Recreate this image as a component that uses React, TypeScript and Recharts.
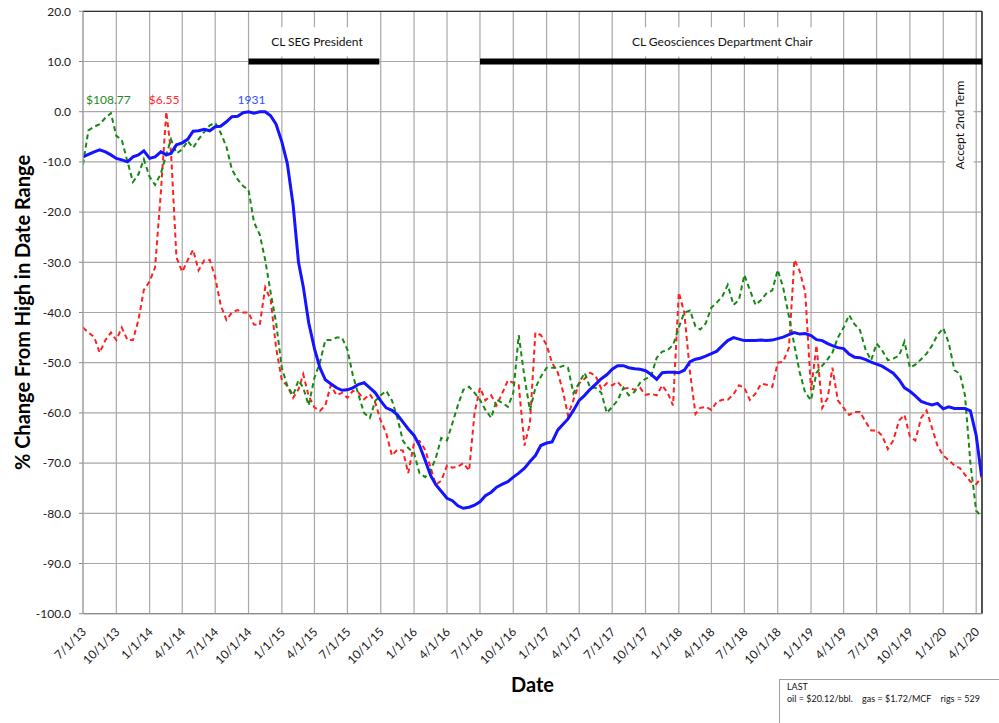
import React from 'react';
import {
  LineChart,
  Line,
  XAxis,
  YAxis,
  CartesianGrid,
  ReferenceLine,
  ReferenceArea,
  ReferenceDot,
  Label,
} from 'recharts';

// Semi-monthly sample dates
const dates: string[] = [
  '2013-07-01', '2013-07-16', '2013-08-01', '2013-08-16', '2013-09-01', '2013-09-16', '2013-10-01', '2013-10-16', '2013-11-01', '2013-11-16', '2013-12-01', '2013-12-16',
  '2014-01-01', '2014-01-16', '2014-02-01', '2014-02-16', '2014-03-01', '2014-03-16', '2014-04-01', '2014-04-16', '2014-05-01', '2014-05-16', '2014-06-01', '2014-06-16',
  '2014-07-01', '2014-07-16', '2014-08-01', '2014-08-16', '2014-09-01', '2014-09-16', '2014-10-01', '2014-10-16', '2014-11-01', '2014-11-16', '2014-12-01', '2014-12-16',
  '2015-01-01', '2015-01-16', '2015-02-01', '2015-02-16', '2015-03-01', '2015-03-16', '2015-04-01', '2015-04-16', '2015-05-01', '2015-05-16', '2015-06-01', '2015-06-16',
  '2015-07-01', '2015-07-16', '2015-08-01', '2015-08-16', '2015-09-01', '2015-09-16', '2015-10-01', '2015-10-16', '2015-11-01', '2015-11-16', '2015-12-01', '2015-12-16',
  '2016-01-01', '2016-01-16', '2016-02-01', '2016-02-16', '2016-03-01', '2016-03-16', '2016-04-01', '2016-04-16', '2016-05-01', '2016-05-16', '2016-06-01', '2016-06-16',
  '2016-07-01', '2016-07-16', '2016-08-01', '2016-08-16', '2016-09-01', '2016-09-16', '2016-10-01', '2016-10-16', '2016-11-01', '2016-11-16', '2016-12-01', '2016-12-16',
  '2017-01-01', '2017-01-16', '2017-02-01', '2017-02-16', '2017-03-01', '2017-03-16', '2017-04-01', '2017-04-16', '2017-05-01', '2017-05-16', '2017-06-01', '2017-06-16',
  '2017-07-01', '2017-07-16', '2017-08-01', '2017-08-16', '2017-09-01', '2017-09-16', '2017-10-01', '2017-10-16', '2017-11-01', '2017-11-16', '2017-12-01', '2017-12-16',
  '2018-01-01', '2018-01-16', '2018-02-01', '2018-02-16', '2018-03-01', '2018-03-16', '2018-04-01', '2018-04-16', '2018-05-01', '2018-05-16', '2018-06-01', '2018-06-16',
  '2018-07-01', '2018-07-16', '2018-08-01', '2018-08-16', '2018-09-01', '2018-09-16', '2018-10-01', '2018-10-16', '2018-11-01', '2018-11-16', '2018-12-01', '2018-12-16',
  '2019-01-01', '2019-01-16', '2019-02-01', '2019-02-16', '2019-03-01', '2019-03-16', '2019-04-01', '2019-04-16', '2019-05-01', '2019-05-16', '2019-06-01', '2019-06-16',
  '2019-07-01', '2019-07-16', '2019-08-01', '2019-08-16', '2019-09-01', '2019-09-16', '2019-10-01', '2019-10-16', '2019-11-01', '2019-11-16', '2019-12-01', '2019-12-16',
  '2020-01-01', '2020-01-16', '2020-02-01', '2020-02-16', '2020-03-01', '2020-03-16', '2020-04-01', '2020-04-16',
];

// Rig count (% change from high of 1931)
const rigs: number[] = [
  -9.0, -8.5, -8.0, -7.6, -8.0, -8.6, -9.3, -9.6, -10.0, -9.0, -8.6, -7.8,
  -9.3, -9.0, -8.0, -8.6, -8.3, -6.6, -6.2, -5.5, -3.9, -3.8, -3.5, -3.8,
  -3.0, -2.9, -2.0, -1.0, -0.9, -0.2, 0, -0.3, 0, 0, -0.8, -2.5,
  -6.0, -10.3, -18.5, -30, -34.8, -42, -47.2, -51, -53.4, -54.2, -55, -55.5,
  -55.4, -55, -54.3, -54, -55, -56, -57.6, -59, -59.5, -60.4, -61.8, -63.2,
  -64.5, -66.5, -69.5, -72.5, -74.3, -75.6, -77, -77.5, -78.5, -79, -78.8, -78.4,
  -77.7, -76.5, -75.8, -74.8, -74.2, -73.7, -72.8, -72, -71, -69.7, -68.5, -66.5,
  -66, -65.8, -63.4, -62.2, -61.2, -59.5, -57.5, -56.5, -55.3, -54.3, -53.2, -52.4,
  -51.3, -50.6, -50.6, -51, -51.2, -51.3, -51.6, -52.3, -53.3, -52, -51.9, -51.9,
  -52, -51.5, -49.8, -49.3, -49.1, -48.7, -48.2, -47.7, -46.6, -45.6, -45, -45.3,
  -45.6, -45.6, -45.6, -45.5, -45.6, -45.5, -45.2, -44.9, -44.4, -44, -44.3, -44.2,
  -44.6, -45.4, -45.6, -46.2, -46.6, -47, -47.2, -48.3, -48.9, -49, -49.4, -49.9,
  -50.3, -50.7, -51.4, -52.1, -53.4, -55, -55.7, -56.6, -57.7, -58.1, -58.4, -58.1,
  -59.2, -58.8, -59.1, -59.1, -59.1, -59.6, -64.5, -72.7,
];

// Oil price (% change from high of $108.77)
const oil: number[] = [
  -10.5, -3.7, -3.0, -2.5, -1.2, -0.3, -4.8, -5.6, -10, -14, -12.5, -9.5,
  -13, -14.6, -12.3, -8.5, -5.5, -8.3, -7.5, -5.8, -7.2, -5.5, -4, -2.7,
  -2.2, -4.2, -7, -11.5, -13.5, -14.8, -15.6, -22, -24.5, -29.5, -36, -42,
  -51, -54.6, -56.5, -53.5, -55, -58.5, -53, -50, -45.5, -45.5, -45, -45,
  -47.4, -52.5, -56.5, -60, -61, -57.6, -56.5, -55.6, -57.5, -61, -65.5, -67,
  -68, -72, -72.8, -71.4, -69, -65, -65.5, -62, -58.5, -55.4, -54.8, -56,
  -57.4, -59.4, -61, -57.4, -58, -58.8, -56, -44.5, -53, -59.5, -55, -52.8,
  -51, -51, -51, -50.6, -51, -56.1, -54, -52, -55, -55, -56, -60,
  -58.8, -57.5, -55, -56.5, -55.8, -54, -53.2, -52.8, -49, -47.8, -47.5, -46.5,
  -43, -40, -39.6, -42.8, -43.4, -42.2, -39, -38, -36.8, -34.5, -38.5, -37.5,
  -32.5, -35.5, -38.5, -37.5, -36.1, -35.6, -31.5, -35, -40.8, -46.5, -52, -56,
  -57.5, -52, -50.6, -49.3, -48, -45, -43, -40.5, -42.3, -43.5, -47.5, -49.5,
  -46.2, -47.5, -49.5, -49.2, -48.6, -45.8, -51, -50.4, -49.3, -48.2, -46.6, -44.5,
  -43.1, -46, -51.5, -52.2, -56.5, -70, -79.5, -80.7,
];

// Gas price (% change from high of $6.55)
const gas: number[] = [
  -43, -44, -44.9, -48, -45.5, -44, -45.5, -43, -45.5, -45.5, -41.5, -35.5,
  -33.8, -31, -16, 0, -8, -29, -31.9, -29.6, -27.5, -31.6, -29.6, -29.5,
  -33, -38.5, -41.5, -40, -39.5, -40, -40, -42.4, -42.5, -35, -37.4, -47,
  -53.5, -54.6, -57, -55.3, -52.3, -56.6, -58.9, -59.6, -58.5, -54.5, -56.5, -56,
  -57, -55.6, -56, -57.3, -56.3, -58, -61.5, -64, -68.5, -67.3, -67.5, -72,
  -66, -65.6, -67.4, -71, -74.3, -73.5, -70.5, -70.9, -70.7, -70, -71.5, -60,
  -55, -57.5, -56.5, -58.5, -56, -53.5, -54, -54.5, -66.5, -62, -44, -44.5,
  -46.5, -50, -52, -56, -60.5, -57.4, -54.1, -53.2, -52, -52.6, -55.2, -54.1,
  -54.5, -53.8, -55.2, -55, -55.4, -55, -56.4, -56.2, -56.5, -54.5, -56, -58.5,
  -36, -40, -52, -60.2, -59, -58.8, -59.4, -57.8, -57.4, -57.4, -56.3, -54.5,
  -55, -57.4, -56.1, -54.2, -54.4, -54.8, -50, -49.8, -47, -29.5, -31.8, -36,
  -55.5, -46.5, -59, -57, -51, -57.5, -59, -60.4, -59.8, -59.8, -61.8, -63.5,
  -63.5, -64.5, -67.2, -65.5, -61.5, -60.4, -64.7, -65.5, -61, -59.5, -63, -66.5,
  -68.5, -69.4, -70.5, -71, -72.3, -73.7, -74.2, -72.8,
];

const quarterTicks: string[] = [
  '2013-07-01', '2013-10-01', '2014-01-01', '2014-04-01', '2014-07-01', '2014-10-01', '2015-01-01',
  '2015-04-01', '2015-07-01', '2015-10-01', '2016-01-01', '2016-04-01', '2016-07-01', '2016-10-01',
  '2017-01-01', '2017-04-01', '2017-07-01', '2017-10-01', '2018-01-01', '2018-04-01', '2018-07-01',
  '2018-10-01', '2019-01-01', '2019-04-01', '2019-07-01', '2019-10-01', '2020-01-01', '2020-04-01',
];

const yTicks: number[] = [20, 10, 0, -10, -20, -30, -40, -50, -60, -70, -80, -90, -100];

const lastLine = 'oil = $20.12/bbl.    gas = $1.72/MCF    rigs = 529';

const domainStart = '2013-07-01';
const domainEnd = '2020-04-17';

const toDay = (s: string) => {
  const [y, m, d] = s.split('-').map(Number);
  return Date.UTC(y, m - 1, d) / 86400000;
};

const fmtDate = (day: number) => {
  const d = new Date(day * 86400000);
  return `${d.getUTCMonth() + 1}/${d.getUTCDate()}/${String(d.getUTCFullYear()).slice(2)}`;
};

const data = dates.map((d, i) => ({ t: toDay(d), rigs: rigs[i], oil: oil[i], gas: gas[i] }));

const FONT = 'Lato, "Open Sans", sans-serif';

function XTick(props: any) {
  const { x, y, payload } = props;
  const ax = x + 4;
  const ay = y + 19;
  return (
    <text
      x={ax}
      y={ay}
      textAnchor="end"
      transform={`rotate(-45 ${ax} ${ay})`}
      fontSize={12}
      fontFamily={FONT}
      fill="#1a1a1a"
    >
      {fmtDate(payload.value)}
    </text>
  );
}

function YTitle(props: any) {
  const vb = props.viewBox || { x: 0, y: 0, width: 0, height: 0 };
  const cx = 30;
  const cy = vb.y + vb.height / 2;
  return (
    <text
      x={cx}
      y={cy}
      textAnchor="middle"
      transform={`rotate(-90 ${cx} ${cy})`}
      fontSize={20}
      fontWeight="bold"
      fontFamily={FONT}
      fill="#000"
    >
      % Change From High in Date Range
    </text>
  );
}

export default function App() {
  const x0 = toDay(domainStart);
  const x1 = toDay(domainEnd);
  return (
    <div
      style={{
        position: 'fixed',
        left: 0,
        top: 0,
        width: 999,
        height: 723,
        overflow: 'hidden',
        background: '#fff',
        fontFamily: FONT,
      }}
    >
      <LineChart
        width={999}
        height={723}
        data={data}
        margin={{ top: 11.3, right: 17, left: 8, bottom: 19.3 }}
      >
        <CartesianGrid stroke="#a8a8a8" strokeWidth={1.2} />
        <XAxis
          dataKey="t"
          type="number"
          domain={[x0, x1]}
          allowDataOverflow
          ticks={quarterTicks.map(toDay)}
          interval={0}
          tick={<XTick />}
          tickLine={false}
          tickSize={0}
          tickMargin={0}
          height={90}
          axisLine={{ stroke: '#8c8c8c', strokeWidth: 1.2 }}
        >
          <Label
            value="Date"
            position="insideBottom"
            offset={12}
            style={{ fontSize: 20, fontWeight: 'bold', fontFamily: FONT, fill: '#000' }}
          />
        </XAxis>
        <YAxis
          type="number"
          domain={[-100, 20]}
          ticks={yTicks}
          interval={0}
          width={75}
          tickFormatter={(v: number) => v.toFixed(1)}
          tick={{ fontSize: 12, fontFamily: FONT, fill: '#1a1a1a' }}
          tickSize={4}
          tickMargin={8}
          tickLine={{ stroke: '#8c8c8c' }}
          axisLine={{ stroke: '#a8a8a8', strokeWidth: 1.2 }}
        >
          <Label content={<YTitle />} position="center" />
        </YAxis>

        <ReferenceArea
          x1={toDay('2014-10-20')}
          x2={toDay('2015-09-25')}
          y1={11}
          y2={16.8}
          fill="#ffffff"
          fillOpacity={1}
          stroke="none"
          label={{ value: 'CL SEG President', position: 'center', fill: '#111', fontSize: 12, fontFamily: FONT }}
        />
        <ReferenceArea
          x1={toDay('2017-07-22')}
          x2={toDay('2019-02-08')}
          y1={11}
          y2={16.8}
          fill="#ffffff"
          fillOpacity={1}
          stroke="none"
          label={{ value: 'CL Geosciences Department Chair', position: 'center', fill: '#111', fontSize: 12, fontFamily: FONT }}
        />
        <ReferenceArea
          x1={toDay('2020-01-07')}
          x2={toDay('2020-03-25')}
          y1={-12.6}
          y2={7.3}
          fill="#ffffff"
          fillOpacity={1}
          stroke="none"
          label={{ value: 'Accept 2nd Term', position: 'center', angle: -90, fill: '#111', fontSize: 12, fontFamily: FONT }}
        />

        <ReferenceLine y={20} stroke="#333" strokeWidth={1.3} />
        <ReferenceLine x={x1} stroke="#333" strokeWidth={1.6} />

        <ReferenceLine
          segment={[{ x: toDay('2014-10-01'), y: 10 }, { x: toDay('2015-09-27'), y: 10 }]}
          stroke="#000"
          strokeWidth={6}
        />
        <ReferenceLine
          segment={[{ x: toDay('2016-07-01'), y: 10 }, { x: x1, y: 10 }]}
          stroke="#000"
          strokeWidth={6}
        />

        <Line
          dataKey="gas"
          type="linear"
          stroke="#ff2020"
          strokeWidth={2}
          strokeDasharray="5 3.5"
          dot={false}
          isAnimationActive={false}
        />
        <Line
          dataKey="oil"
          type="linear"
          stroke="#148a14"
          strokeWidth={2}
          strokeDasharray="5 3.5"
          dot={false}
          isAnimationActive={false}
        />
        <Line
          dataKey="rigs"
          type="linear"
          stroke="#1414ff"
          strokeWidth={3}
          dot={false}
          isAnimationActive={false}
        />

        <ReferenceDot
          x={toDay('2013-09-09')}
          y={0}
          r={0}
          fill="none"
          stroke="none"
          label={{ value: '$108.77', position: 'top', offset: 8, fill: '#228b22', fontSize: 12, fontFamily: FONT }}
        />
        <ReferenceDot
          x={toDay('2014-02-10')}
          y={0}
          r={0}
          fill="none"
          stroke="none"
          label={{ value: '$6.55', position: 'top', offset: 8, fill: '#ff2a2a', fontSize: 12, fontFamily: FONT }}
        />
        <ReferenceDot
          x={toDay('2014-10-09')}
          y={0}
          r={0}
          fill="none"
          stroke="none"
          label={{ value: '1931', position: 'top', offset: 8, fill: '#3050ff', fontSize: 12, fontFamily: FONT }}
        />
      </LineChart>
      <div
        style={{
          position: 'absolute',
          left: 779,
          top: 679,
          width: 260,
          height: 80,
          border: '1px solid #a0a0a0',
          background: '#fff',
          boxSizing: 'border-box',
          padding: '1px 0 0 7px',
          fontSize: 9,
          lineHeight: '11.5px',
          fontFamily: FONT,
          color: '#111',
          whiteSpace: 'pre',
        }}
      >
        <div>LAST</div>
        <div>{lastLine}</div>
      </div>
    </div>
  );
}
